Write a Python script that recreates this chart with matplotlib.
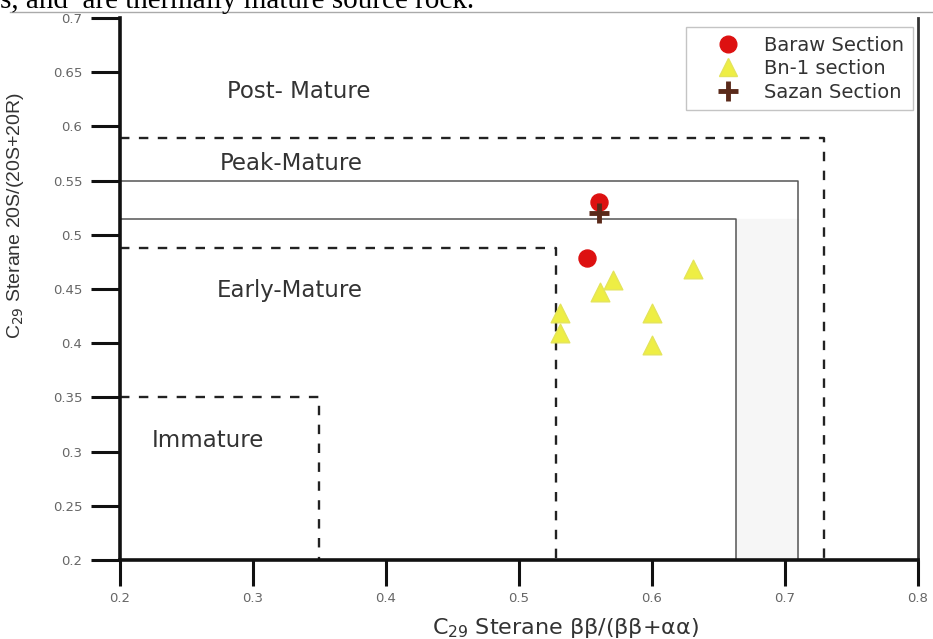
import matplotlib
matplotlib.use("Agg")
import matplotlib.pyplot as plt
from matplotlib.lines import Line2D

# Data
baraw_x = [0.56, 0.551]
baraw_y = [0.53, 0.479]
bn1_x = [0.531, 0.531, 0.561, 0.571, 0.600, 0.600, 0.631]
bn1_y = [0.428, 0.409, 0.447, 0.458, 0.428, 0.398, 0.468]
sazan_x = [0.56]
sazan_y = [0.520]

# Zone boundaries (corner x, corner y)
immature = (0.35, 0.35)
early = (0.528, 0.488)
inner_solid = (0.663, 0.515)
outer_solid = (0.71, 0.55)
peak_dash = (0.729, 0.589)

xticks = [0.2, 0.3, 0.4, 0.5, 0.6, 0.7, 0.8]
yticks = [0.2, 0.25, 0.3, 0.35, 0.4, 0.45, 0.5, 0.55, 0.6, 0.65, 0.7]

fig = plt.figure(figsize=(9.33, 6.39), dpi=100)
ax = fig.add_axes([120/933, 1-560/639, (918-120)/933, (560-18)/639])
ax.set_xlim(0.2, 0.8)
ax.set_ylim(0.2, 0.7)

def corner(c, **kw):
    cx, cy = c
    ax.plot([0.2, cx, cx], [cy, cy, 0.2], **kw)

ax.fill_betweenx([0.2, inner_solid[1]], inner_solid[0], outer_solid[0], color="#f6f6f6", zorder=0)
dash = (0, (4, 4))
corner(immature, color="#222222", lw=1.7, ls=dash)
corner(early, color="#222222", lw=1.7, ls=dash)
corner(inner_solid, color="#555555", lw=1.1)
corner(outer_solid, color="#555555", lw=1.1)
corner(peak_dash, color="#222222", lw=1.7, ls=dash)

ax.scatter(bn1_x, bn1_y, marker="^", s=180, color="#eeee44", edgecolors="#e4e45a", zorder=3)
ax.scatter(baraw_x, baraw_y, marker="o", s=150, color="#dd1111", zorder=4)
ax.plot(sazan_x, sazan_y, marker="+", ms=15, mew=3.5, color="#5a2a1a", ls="none", zorder=5)

lbl = dict(fontsize=16.5, color="#333333", family="DejaVu Sans")
ax.text(0.2 + 107/1330, 0.7 - 74/1084, "Post- Mature", ha="left", va="center", **lbl)
ax.text(0.2 + 100/1330, 0.7 - 145/1084, "Peak-Mature", ha="left", va="center", **lbl)
ax.text(0.2 + 97/1330, 0.7 - 273/1084, "Early-Mature", ha="left", va="center", **lbl)
ax.text(0.2 + 32/1330, 0.7 - 422/1084, "Immature", ha="left", va="center", **lbl)

ax.set_xticks(xticks)
ax.set_xticklabels([f"{v:g}" for v in xticks])
ax.set_yticks(yticks)
ax.set_yticklabels([f"{v:g}" for v in yticks])
ax.tick_params(axis="both", direction="out", width=2.2, color="#111111",
               labelsize=9.5, labelcolor="#666666")
ax.tick_params(axis="y", length=21, pad=6)
ax.tick_params(axis="x", length=19, pad=4)
for t in ax.get_xticklabels() + ax.get_yticklabels():
    t.set_family("DejaVu Sans")
for s in ["left", "bottom"]:
    ax.spines[s].set_linewidth(2.6)
    ax.spines[s].set_color("#111111")
ax.spines["right"].set_linewidth(2.0)
ax.spines["right"].set_color("#333333")
ax.spines["top"].set_visible(False)

ax.set_xlabel(r"C$_{29}$ Sterane ββ/(ββ+αα)", fontsize=16, color="#333333", family="DejaVu Sans")
ax.xaxis.set_label_coords(0.558, -0.103)
ax.set_ylabel(r"C$_{29}$ Sterane 20S/(20S+20R)", fontsize=14, color="#333333", family="Liberation Sans")
ax.yaxis.set_label_coords(-0.118, 0.635)

handles = [
    Line2D([], [], marker="o", ls="none", ms=12, color="#dd1111"),
    Line2D([], [], marker="^", ls="none", ms=13, color="#eeee44", mec="#e4e45a"),
    Line2D([], [], marker="+", ls="none", ms=14, mew=3.5, color="#5a2a1a"),
]
leg = ax.legend(handles, ["Baraw Section", "Bn-1 section", "Sazan Section"],
                loc="upper right", bbox_to_anchor=(0.994, 0.983), fancybox=False,
                framealpha=1, edgecolor="#c4c4c4", borderpad=0.45,
                handletextpad=0.2, handlelength=3.4, labelspacing=0.22, borderaxespad=0.0,
                prop={"family": "DejaVu Sans", "size": 14})
leg.get_frame().set_linewidth(1.0)
for t in leg.get_texts():
    t.set_color("#333333")

# document context
fig.add_artist(Line2D([10/933, 1], [1-12/639, 1-12/639], color="#aaaaaa", lw=1))
fig.text(0.0, 1-8/639, "s, and  are thermally mature source rock.", fontsize=21,
         family="Liberation Serif", ha="left", va="baseline")

fig.savefig("out.png", dpi=100)
